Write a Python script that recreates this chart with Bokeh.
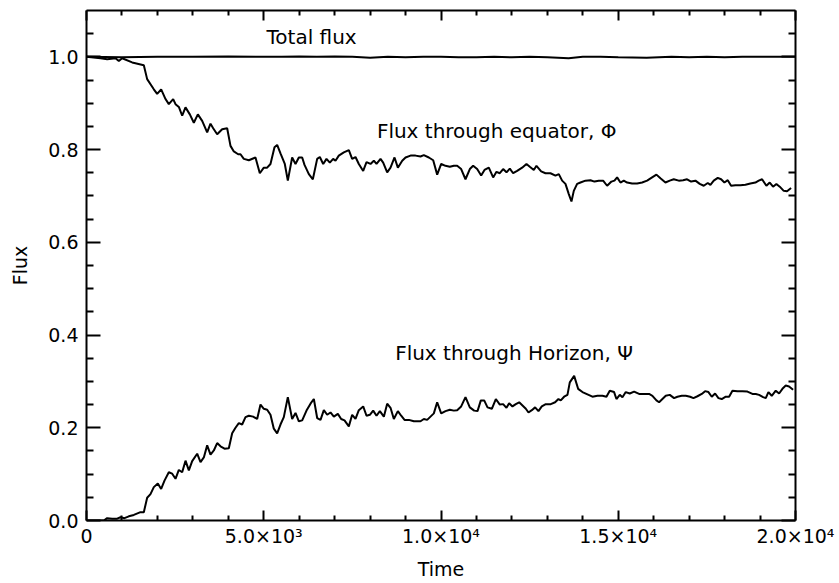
from bokeh.plotting import figure
from bokeh.models import (Range1d, LinearAxis, FixedTicker, CustomJSTickFormatter,
                          NumeralTickFormatter, Label)
from bokeh.embed import file_html
from bokeh.resources import INLINE

# ---- data -------------------------------------------------------------
t_total = [0, 1000, 2000, 3000, 4000, 5000, 5500, 6000, 6500, 7000, 7500, 8000,
           8500, 9000, 9500, 10000, 10500, 11000, 11500, 12000, 12500, 13000,
           13600, 14000, 14500, 15000, 15800, 16500, 17000, 17500, 18000, 18500,
           19000, 19500, 20000]
total_flux = [1.000, 0.999, 1.000, 1.000, 1.001, 1.000, 1.000, 1.001, 1.000, 1.001,
              1.000, 0.998, 1.000, 0.999, 1.000, 1.000, 0.999, 0.999, 1.000, 0.999,
              1.000, 0.999, 0.997, 1.000, 1.000, 0.999, 0.998, 1.000, 0.999, 1.000,
              0.999, 1.000, 1.000, 1.000, 1.000]

t_phi = [0, 395, 583, 818, 912, 1006, 1288, 1617, 1711, 1899, 1993, 2106, 2229,
         2322, 2445, 2511, 2605, 2699, 2793, 2915, 3028, 3141, 3263, 3404, 3498,
         3573, 3686, 3827, 3968, 4062, 4156, 4278, 4344, 4438, 4579, 4767, 4889,
         5002, 5096, 5190, 5303, 5378, 5472, 5594, 5679, 5801, 5896, 5990, 6084,
         6150, 6272, 6385, 6507, 6582, 6677, 6770, 6864, 6958, 7024, 7117, 7259,
         7400, 7494, 7588, 7682, 7805, 7899, 8012, 8105, 8181, 8294, 8369, 8482,
         8576, 8689, 8783, 8906, 9000, 9140, 9281, 9422, 9516, 9657, 9780, 9892,
         10005, 10127, 10249, 10362, 10456, 10569, 10691, 10813, 10907, 11020,
         11133, 11227, 11349, 11471, 11565, 11659, 11753, 11847, 11941, 12035,
         12148, 12289, 12411, 12505, 12618, 12693, 12825, 12947, 13088, 13229,
         13323, 13417, 13511, 13605, 13680, 13746, 13840, 13934, 14075, 14216,
         14329, 14451, 14573, 14686, 14808, 14893, 14968, 15062, 15156, 15250,
         15391, 15532, 15673, 15814, 15955, 16077, 16190, 16331, 16453, 16566,
         16707, 16829, 16942, 17055, 17177, 17299, 17412, 17525, 17600, 17694,
         17807, 17901, 17995, 18089, 18183, 18305, 18446, 18587, 18728, 18869,
         18963, 19057, 19179, 19273, 19367, 19461, 19555, 19668, 19762, 19875]
phi = [1.000, 0.997, 0.995, 0.997, 0.991, 0.997, 0.988, 0.982, 0.952, 0.930, 0.920,
       0.930, 0.909, 0.898, 0.909, 0.898, 0.892, 0.873, 0.891, 0.876, 0.858, 0.876,
       0.862, 0.837, 0.856, 0.846, 0.833, 0.844, 0.846, 0.808, 0.796, 0.790, 0.790,
       0.780, 0.777, 0.783, 0.749, 0.761, 0.761, 0.769, 0.805, 0.810, 0.792, 0.769,
       0.733, 0.783, 0.769, 0.783, 0.783, 0.767, 0.747, 0.736, 0.780, 0.784, 0.769,
       0.780, 0.772, 0.780, 0.776, 0.787, 0.794, 0.799, 0.780, 0.784, 0.769, 0.754,
       0.773, 0.769, 0.776, 0.769, 0.780, 0.772, 0.751, 0.761, 0.783, 0.761, 0.776,
       0.783, 0.787, 0.787, 0.785, 0.788, 0.783, 0.777, 0.746, 0.769, 0.765, 0.763,
       0.765, 0.765, 0.758, 0.736, 0.758, 0.765, 0.758, 0.744, 0.756, 0.761, 0.740,
       0.752, 0.749, 0.758, 0.751, 0.759, 0.749, 0.754, 0.761, 0.769, 0.763, 0.756,
       0.765, 0.753, 0.749, 0.749, 0.744, 0.747, 0.733, 0.726, 0.704, 0.688, 0.711,
       0.726, 0.729, 0.733, 0.734, 0.731, 0.733, 0.733, 0.722, 0.731, 0.733, 0.740,
       0.729, 0.733, 0.729, 0.727, 0.727, 0.729, 0.733, 0.740, 0.746, 0.738, 0.729,
       0.733, 0.736, 0.733, 0.734, 0.736, 0.731, 0.733, 0.726, 0.722, 0.728, 0.724,
       0.733, 0.739, 0.736, 0.729, 0.734, 0.722, 0.723, 0.723, 0.724, 0.727, 0.729,
       0.733, 0.736, 0.722, 0.729, 0.720, 0.726, 0.720, 0.711, 0.710, 0.717]

t_psi = [0, 489, 583, 724, 865, 959, 1072, 1194, 1335, 1523, 1617, 1711, 1805, 1899,
         2012, 2106, 2200, 2322, 2417, 2511, 2605, 2699, 2793, 2887, 2981, 3122,
         3216, 3310, 3404, 3498, 3592, 3686, 3780, 3893, 4015, 4109, 4203, 4297,
         4391, 4485, 4579, 4701, 4814, 4908, 5002, 5096, 5190, 5284, 5378, 5472,
         5566, 5679, 5801, 5896, 5990, 6084, 6206, 6319, 6413, 6507, 6601, 6695,
         6789, 6883, 6977, 7090, 7184, 7278, 7400, 7494, 7588, 7682, 7805, 7899,
         7993, 8087, 8181, 8275, 8388, 8482, 8576, 8670, 8783, 8877, 8971, 9093,
         9234, 9422, 9516, 9610, 9704, 9798, 9892, 10005, 10127, 10249, 10362,
         10456, 10569, 10691, 10813, 10936, 11030, 11124, 11218, 11312, 11434,
         11547, 11659, 11753, 11847, 11922, 12016, 12110, 12205, 12299, 12393,
         12468, 12562, 12655, 12749, 12843, 12956, 13097, 13219, 13313, 13379,
         13473, 13567, 13633, 13756, 13868, 13990, 14131, 14272, 14413, 14554,
         14667, 14761, 14883, 14949, 15043, 15118, 15212, 15325, 15447, 15588,
         15729, 15870, 15964, 16077, 16152, 16246, 16340, 16453, 16575, 16669,
         16792, 16905, 17027, 17121, 17234, 17356, 17450, 17544, 17638, 17732,
         17826, 17920, 18033, 18127, 18221, 18362, 18503, 18644, 18785, 18879,
         18973, 19086, 19161, 19236, 19330, 19443, 19537, 19631, 19725, 19819,
         19932]
psi = [0.000, 0.000, 0.005, 0.004, 0.004, 0.007, 0.005, 0.009, 0.012, 0.018, 0.018,
       0.049, 0.057, 0.072, 0.080, 0.068, 0.086, 0.104, 0.101, 0.090, 0.109, 0.104,
       0.129, 0.108, 0.128, 0.144, 0.126, 0.136, 0.162, 0.142, 0.151, 0.167, 0.160,
       0.155, 0.156, 0.188, 0.200, 0.210, 0.207, 0.223, 0.226, 0.224, 0.219, 0.250,
       0.241, 0.239, 0.228, 0.198, 0.188, 0.207, 0.223, 0.266, 0.219, 0.232, 0.214,
       0.216, 0.237, 0.252, 0.262, 0.221, 0.217, 0.238, 0.228, 0.233, 0.224, 0.230,
       0.219, 0.216, 0.203, 0.228, 0.219, 0.238, 0.246, 0.226, 0.228, 0.237, 0.226,
       0.236, 0.224, 0.252, 0.243, 0.219, 0.236, 0.226, 0.217, 0.217, 0.214, 0.214,
       0.219, 0.217, 0.224, 0.231, 0.255, 0.231, 0.236, 0.239, 0.237, 0.238, 0.246,
       0.266, 0.244, 0.237, 0.236, 0.259, 0.259, 0.244, 0.241, 0.262, 0.250, 0.251,
       0.243, 0.253, 0.246, 0.251, 0.255, 0.248, 0.241, 0.233, 0.238, 0.244, 0.236,
       0.246, 0.251, 0.251, 0.255, 0.262, 0.259, 0.267, 0.271, 0.298, 0.312, 0.284,
       0.277, 0.272, 0.267, 0.269, 0.269, 0.267, 0.280, 0.277, 0.262, 0.271, 0.266,
       0.277, 0.274, 0.278, 0.273, 0.273, 0.273, 0.269, 0.259, 0.255, 0.262, 0.269,
       0.271, 0.264, 0.267, 0.269, 0.269, 0.267, 0.264, 0.268, 0.273, 0.279, 0.277,
       0.267, 0.274, 0.264, 0.262, 0.267, 0.267, 0.280, 0.279, 0.279, 0.278, 0.273,
       0.273, 0.271, 0.266, 0.264, 0.277, 0.269, 0.280, 0.274, 0.284, 0.291, 0.289,
       0.282]

x_major = [0, 5000, 10000, 15000, 20000]
x_tick_labels = ["0", "5.0×10³", "1.0×10⁴", "1.5×10⁴", "2.0×10⁴"]
x_minor = [1000, 2000, 3000, 4000, 6000, 7000, 8000, 9000, 11000, 12000, 13000,
           14000, 16000, 17000, 18000, 19000]
y_major = [0.0, 0.2, 0.4, 0.6, 0.8, 1.0]
y_minor = [0.05, 0.1, 0.15, 0.25, 0.3, 0.35, 0.45, 0.5, 0.55, 0.65, 0.7, 0.75,
           0.85, 0.9, 0.95, 1.05]

# ---- figure -----------------------------------------------------------
FONT = "DejaVu Sans"
W, H = 839, 583

p = figure(width=W, height=H, output_backend="svg", toolbar_location=None,
           x_range=Range1d(0, 20000), y_range=Range1d(0, 1.1),
           x_axis_location=None, y_axis_location=None,
           min_border_left=86, min_border_right=44,
           min_border_top=10, min_border_bottom=63)
p.outline_line_color = None
p.xgrid.visible = False
p.ygrid.visible = False
p.background_fill_color = "white"
p.border_fill_color = "white"

xt = FixedTicker(ticks=x_major, minor_ticks=x_minor)
yt = FixedTicker(ticks=y_major, minor_ticks=y_minor)
blank = CustomJSTickFormatter(code="return ''")


def style_axis(ax, tick_len):
    ax.axis_line_width = 2
    ax.axis_line_color = "black"
    ax.major_tick_in = tick_len
    ax.major_tick_out = 0
    ax.minor_tick_in = tick_len // 2
    ax.minor_tick_out = 0
    ax.major_tick_line_width = 2
    ax.minor_tick_line_width = 2
    ax.major_tick_line_color = "black"
    ax.minor_tick_line_color = "black"
    ax.major_label_text_font = FONT
    ax.major_label_text_font_size = "19px"
    ax.major_label_text_color = "black"
    ax.axis_label_text_font = FONT
    ax.axis_label_text_font_size = "19px"
    ax.axis_label_text_font_style = "normal"
    ax.axis_label_text_color = "black"


bottom = LinearAxis(ticker=xt, axis_label="Time")
bottom.major_label_overrides = dict(zip(x_major, x_tick_labels))
style_axis(bottom, 10)
bottom.major_label_standoff = 4
bottom.axis_label_standoff = 8
p.add_layout(bottom, "below")

top = LinearAxis(ticker=xt, formatter=blank)
style_axis(top, 10)
top.major_label_standoff = 0
p.add_layout(top, "above")

left = LinearAxis(ticker=yt, axis_label="Flux",
                  formatter=NumeralTickFormatter(format="0.0"))
style_axis(left, 14)
left.major_label_standoff = 8
left.axis_label_standoff = 14
p.add_layout(left, "left")

right = LinearAxis(ticker=yt, formatter=blank)
style_axis(right, 14)
right.major_label_standoff = 0
p.add_layout(right, "right")

# ---- curves -----------------------------------------------------------
p.line(t_total, total_flux, line_color="black", line_width=2)
p.line(t_phi, phi, line_color="black", line_width=2)
p.line(t_psi, psi, line_color="black", line_width=2)

# ---- annotations ------------------------------------------------------
for x, y, txt in [(6350, 1.043, "Total flux"),
                  (11570, 0.840, "Flux through equator, Φ"),
                  (12060, 0.362, "Flux through Horizon, Ψ")]:
    p.add_layout(Label(x=x, y=y, text=txt, text_align="center",
                       text_baseline="middle", text_font=FONT,
                       text_font_size="20px", text_color="black"))

open("out.html", "w").write(file_html(p, INLINE))
